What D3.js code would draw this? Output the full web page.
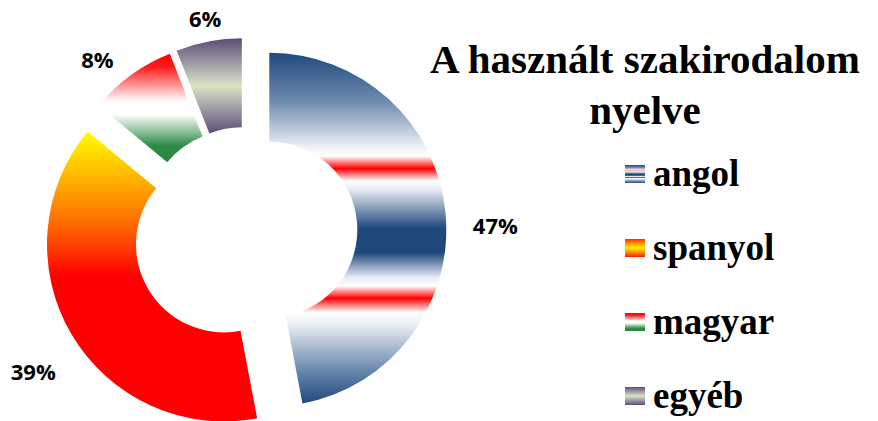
<!DOCTYPE html>
<html><head><meta charset="utf-8">
<script src="https://cdn.jsdelivr.net/npm/d3@7"></script>
<style>html,body{margin:0;padding:0;background:#fff;overflow:hidden}</style>
</head><body>
<svg id="chart" width="878" height="421"></svg>
<script>
// ---- data ----
const categories = ["angol", "spanyol", "magyar", "egyéb"];
const values = [47, 39, 8, 6];
const percentLabels = ["47%", "39%", "8%", "6%"];
const titleLines = ["A használt szakirodalom", "nyelve"];

// ---- style ----
const W = 878, H = 421;
const center = [245, 232];
const outerR = 177, innerR = 88;
const explode = [24.4, 24.4, 17, 17];
const labelDx = [10, -4, -10, 4];
const gradients = [
  [[0,"#1f497d"],[0.14,"#6f8bb0"],[0.27,"#eef1f6"],[0.295,"#ffffff"],[0.33,"#ff0000"],[0.365,"#ffffff"],[0.39,"#e6ebf2"],[0.5,"#1f497d"],[0.57,"#1f497d"],[0.64,"#e6ebf2"],[0.665,"#ffffff"],[0.70,"#ff0000"],[0.74,"#ffffff"],[0.77,"#eef1f6"],[0.9,"#6f8bb0"],[1,"#1f497d"]],
  [[0,"#ffff00"],[0.18,"#ffaa00"],[0.32,"#ff6a00"],[0.5,"#ff0000"],[1,"#ff0000"]],
  [[0,"#ff0000"],[0.12,"#ff1a1a"],[0.44,"#ffffff"],[0.56,"#ffffff"],[0.85,"#2e8a44"],[1,"#2e8540"]],
  [[0,"#5e4b7a"],[0.5,"#d8e5c6"],[1,"#5e4b7a"]]
];
const legendGradients = [
  gradients[0],
  [[0,"#ff2a00"],[0.25,"#ff9900"],[0.5,"#ffee00"],[0.75,"#ff8800"],[1,"#ff1a00"]],
  gradients[2],
  gradients[3]
];

const svg = d3.select("#chart");
svg.append("rect").attr("width", W).attr("height", H).attr("fill", "#fff");

const defs = svg.append("defs");
function addGrad(id, stops) {
  const g = defs.append("linearGradient").attr("id", id)
    .attr("x1", 0).attr("y1", 0).attr("x2", 0).attr("y2", 1);
  stops.forEach(s => g.append("stop").attr("offset", s[0]).attr("stop-color", s[1]));
}
gradients.forEach((s, i) => addGrad("grad" + i, s));
legendGradients.forEach((s, i) => addGrad("lgrad" + i, s));

const pie = d3.pie().sort(null).value(d => d);
const arcs = pie(values);
const arc = d3.arc().innerRadius(innerR).outerRadius(outerR);

const g = svg.append("g").attr("transform", `translate(${center[0]},${center[1]})`);

arcs.forEach((a, i) => {
  const mid = (a.startAngle + a.endAngle) / 2;
  const ox = explode[i] * Math.sin(mid), oy = -explode[i] * Math.cos(mid);
  g.append("path")
    .attr("d", arc(a))
    .attr("transform", `translate(${ox},${oy})`)
    .attr("fill", `url(#grad${i})`);
  const lr = outerR + 40;
  const lx = ox + lr * Math.sin(mid) + labelDx[i];
  const ly = oy - lr * Math.cos(mid) + 25;
  g.append("text")
    .attr("x", lx).attr("y", ly)
    .attr("text-anchor", "middle")
    .attr("font-family", "'Open Sans', sans-serif")
    .attr("font-weight", "bold")
    .attr("font-size", 22)
    .attr("fill", "#000")
    .text(percentLabels[i]);
});

// title
const title = svg.append("text")
  .attr("text-anchor", "middle")
  .attr("font-family", "'Liberation Serif', 'Times New Roman', serif")
  .attr("font-weight", "bold")
  .attr("font-size", 41)
  .attr("fill", "#000");
titleLines.forEach((t, i) => {
  title.append("tspan").attr("x", 645).attr("y", 73 + i * 51).text(t);
});

// legend
const legend = svg.append("g").attr("transform", "translate(625,165)");
categories.forEach((c, i) => {
  const row = legend.append("g").attr("transform", `translate(0,${i * 74})`);
  row.append("rect").attr("width", 20).attr("height", 18).attr("fill", `url(#lgrad${i})`);
  row.append("text")
    .attr("x", 28).attr("y", 21)
    .attr("font-family", "'Liberation Serif', 'Times New Roman', serif")
    .attr("font-weight", "bold")
    .attr("font-size", 37)
    .attr("fill", "#000")
    .text(c);
});
</script>
</body></html>
